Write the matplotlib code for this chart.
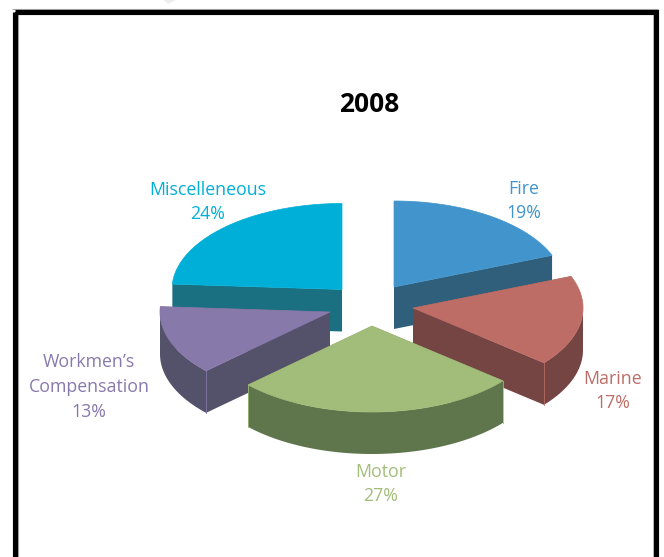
import numpy as np
import matplotlib
matplotlib.use("Agg")
import matplotlib.pyplot as plt
from matplotlib.patches import Polygon, Rectangle

# Premium share by line of business, 2008
title = "2008"
categories = ["Fire", "Marine", "Motor", "Workmen\u2019s\nCompensation", "Miscelleneous"]
shares = [19, 17, 27, 13, 24]
top_colors = ["#4194CC", "#BD6D66", "#A2BC79", "#8879AB", "#00AFD8"]
side_colors = ["#2F5F7B", "#744542", "#5F754C", "#54516A", "#1A7080"]

# Layout in pixels: where each exploded wedge's apex sits and where its label goes
apexes = [(394, 287), (413, 308), (372, 326), (330, 312), (342, 289.5)]
label_pos = [(524, 201), (613, 391), (381, 484), (89, 387), (208, 202)]
RX, RY, DEPTH = 170, 86, 42
draw_order = [4, 0, 3, 1, 2]  # back to front

fig = plt.figure(figsize=(6.64, 5.57), dpi=100, facecolor="white")
ax = fig.add_axes([0, 0, 1, 1])
ax.set_xlim(0, 664)
ax.set_ylim(557, 0)
ax.axis("off")

# Heavy black frame with a thin grey fringe, running off the bottom edge
ax.plot([12, 658], [8.5, 8.5], color="#A8A8A8", lw=0.8, solid_capstyle="butt", zorder=0)
ax.plot([17.6, 17.6], [14, 557], color="#A8A8A8", lw=0.8, solid_capstyle="butt", zorder=0)
ax.plot([652.6, 652.6], [14, 557], color="#A8A8A8", lw=0.5, solid_capstyle="butt", zorder=0)
ax.add_patch(Rectangle((14.5, 11.7), 641, 570, fill=False, ec="black", lw=3.7,
                       joinstyle="miter", zorder=0.5))
# Faint smudge above the frame
ax.add_patch(Polygon([(164, 0), (176, 0), (168, 4)], closed=True, fc="#EDEDF0", ec="none", zorder=0))


def rim(theta_deg, apex):
    """Point on the projected rim, angle measured clockwise from 12 o'clock."""
    t = np.radians(theta_deg)
    return apex[0] + RX * np.sin(t), apex[1] - RY * np.cos(t)


bounds = np.concatenate([[0], np.cumsum(shares)]) * 360.0 / sum(shares)
z = 1
for i in draw_order:
    a0, a1 = bounds[i], bounds[i + 1]
    apex = apexes[i]
    arc = np.linspace(a0, a1, 120)
    rx, ry = rim(arc, apex)

    # Cut faces of the wedge
    for a in (a0, a1):
        px, py = rim(a, apex)
        ax.add_patch(Polygon([apex, (px, py), (px, py + DEPTH), (apex[0], apex[1] + DEPTH)],
                             closed=True, fc=side_colors[i], ec="none", zorder=z))
    z += 1

    # Outer wall: only the part of the rim that faces the viewer
    lo, hi = max(a0, 90), min(a1, 270)
    if lo < hi:
        wall = np.linspace(lo, hi, 120)
        wx, wy = rim(wall, apex)
        pts = np.column_stack([np.r_[wx, wx[::-1]], np.r_[wy, wy[::-1] + DEPTH]])
        ax.add_patch(Polygon(pts, closed=True, fc=side_colors[i], ec="none", zorder=z))
        z += 1

    # Light seam where a cut face meets the outer wall
    for a in (a0, a1):
        if 90 < a < 270:
            px, py = rim(a, apex)
            ax.plot([px, px], [py, py + DEPTH], color=top_colors[i], lw=0.7, alpha=0.8, zorder=z)
    z += 1

    # Top face
    pts = np.column_stack([np.r_[apex[0], rx], np.r_[apex[1], ry]])
    ax.add_patch(Polygon(pts, closed=True, fc=top_colors[i], ec=top_colors[i], lw=0.5, zorder=z))
    z += 1

# Category and percentage labels
for name, share, pos, col in zip(categories, shares, label_pos, top_colors):
    ax.text(pos[0], pos[1], f"{name}\n{share}%", color=col, ha="center", va="center",
            fontsize=12.8, family="Open Sans", linespacing=1.47, zorder=z)

ax.text(369, 105, title, color="black", ha="center", va="center", fontsize=19,
        family="Open Sans", fontweight="bold", zorder=z)

fig.savefig("out.png", dpi=100)
